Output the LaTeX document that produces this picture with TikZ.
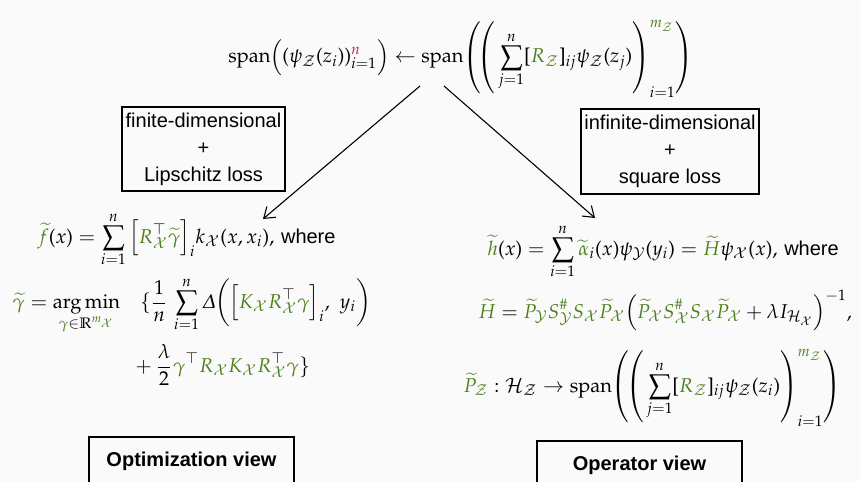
\documentclass[tikz,border=0pt]{standalone}
\usepackage{amsmath}
\usepackage{mathpazo}
\usepackage[no-math]{fontspec}
\setsansfont{Liberation Sans}
\usetikzlibrary{arrows.meta}
\DeclareSymbolFont{cmlarge}{OMX}{cmex}{m}{n}
\DeclareMathDelimiter{(}{\mathopen}{operators}{"28}{cmlarge}{"00}
\DeclareMathDelimiter{)}{\mathclose}{operators}{"29}{cmlarge}{"01}
\DeclareMathDelimiter{[}{\mathopen}{operators}{"5B}{cmlarge}{"02}
\DeclareMathDelimiter{]}{\mathclose}{operators}{"5D}{cmlarge}{"03}
\definecolor{gr}{RGB}{76,128,28}
\definecolor{rd}{RGB}{210,30,60}
\definecolor{bg}{RGB}{250,250,250}
\newcommand{\tallstrut}{\rule[-17pt]{0pt}{22pt}}
\begin{document}
\begin{tikzpicture}[x=0.5pt,y=-0.5pt,
  formula/.style={inner sep=0pt, anchor=base west},
  infobox/.style={draw, line width=0.6pt, align=center, font=\fontsize{10}{13.5}\selectfont\sffamily, inner sep=0pt},
  viewbox/.style={draw, line width=0.6pt, font=\bfseries\sffamily, inner sep=0pt, minimum width=102.5pt, minimum height=24pt},
  conn/.style={-{Straight Barb[length=5pt,width=7pt]}, line width=0.55pt}]
\fill[bg] (0,0) rectangle (860,481);
\useasboundingbox (0,0) rectangle (860,481);
\clip (0,0) rectangle (860,481);

\node[formula] (top) at (228,63) {$\displaystyle \mathrm{span}\Big((\psi_{\mathcal Z}(z_i))_{i=1}^{\textcolor{rd}{n}}\Big) \leftarrow \mathrm{span}\!\left(\!\left(\tallstrut\sum_{j=1}^{n}[\textcolor{gr}{R_{\mathcal Z}}]_{ij}\psi_{\mathcal Z}(z_j)\right)^{\textcolor{gr}{m_{\mathcal Z}}}_{i=1}\right)$};

\node[infobox, minimum width=81.5pt, minimum height=42pt] (fin) at (203.5,149) {finite-dimensional\\+\\Lipschitz loss};
\node[infobox, minimum width=89pt, minimum height=42.5pt] (inf) at (670,151.5) {infinite-dimensional\\+\\square loss};

\node[formula] (fx) at (37,243) {$\displaystyle \textcolor{gr}{\widetilde f}(x) = \sum_{i=1}^{n}\Big[\textcolor{gr}{R}^{\top}_{\textcolor{gr}{\mathcal X}}\textcolor{gr}{\widetilde\gamma}\Big]_i k_{\mathcal X}(x,x_i),$\ \textsf{where}};

\node[formula] (gam) at (12,308) {$\displaystyle \textcolor{gr}{\widetilde\gamma} = \operatorname*{arg\,min}_{\textcolor{gr}{\gamma}\in\mathbb{R}^{\textcolor{gr}{m_{\mathcal X}}}}\quad \{\frac{1}{n}\,\sum_{i=1}^{n}\varDelta\bigg(\Big[\textcolor{gr}{K_{\mathcal X}R}^{\top}_{\textcolor{gr}{\mathcal X}}\textcolor{gr}{\gamma}\Big]_i,\ y_i\bigg)$};

\node[formula] (reg) at (135,372) {$\displaystyle +\,\frac{\lambda}{2}\textcolor{gr}{\gamma}^{\top}\textcolor{gr}{R_{\mathcal X}K_{\mathcal X}R}^{\top}_{\textcolor{gr}{\mathcal X}}\textcolor{gr}{\gamma}\}$};

\node[formula] (hx) at (487,255) {$\displaystyle \textcolor{gr}{\widetilde h}(x) = \sum_{i=1}^{n}\textcolor{gr}{\widetilde\alpha}_i(x)\psi_{\mathcal Y}(y_i) = \textcolor{gr}{\widetilde H}\psi_{\mathcal X}(x),$\ \textsf{where}};

\node[formula] (Hop) at (478,318) {$\displaystyle \textcolor{gr}{\widetilde H} = \textcolor{gr}{\widetilde P_{\mathcal Y}S^{\#}_{\mathcal Y}S_{\mathcal X}\widetilde P_{\mathcal X}}\Big(\textcolor{gr}{\widetilde P_{\mathcal X}S^{\#}_{\mathcal X}S_{\mathcal X}\widetilde P_{\mathcal X}} + \lambda I_{\mathcal H_{\mathcal X}}\Big)^{-1},$};

\node[formula] (Pz) at (463,392) {$\displaystyle \textcolor{gr}{\widetilde P_{\mathcal Z}}:\mathcal H_{\mathcal Z}\to\mathrm{span}\!\left(\!\left(\tallstrut\sum_{j=1}^{n}[\textcolor{gr}{R_{\mathcal Z}}]_{ij}\psi_{\mathcal Z}(z_i)\right)^{\textcolor{gr}{m_{\mathcal Z}}}_{i=1}\right)$};

\node[viewbox] (opt) at (191.5,461) {Optimization view};
\node[viewbox] (oper) at (639.5,465) {Operator view};

\coordinate (ls) at (420,86);
\coordinate (le) at (263,219);
\coordinate (rs) at (444,86);
\coordinate (re) at (595,218);
\draw[conn] (ls) -- (le);
\draw[conn] (rs) -- (re);
\end{tikzpicture}
\end{document}
